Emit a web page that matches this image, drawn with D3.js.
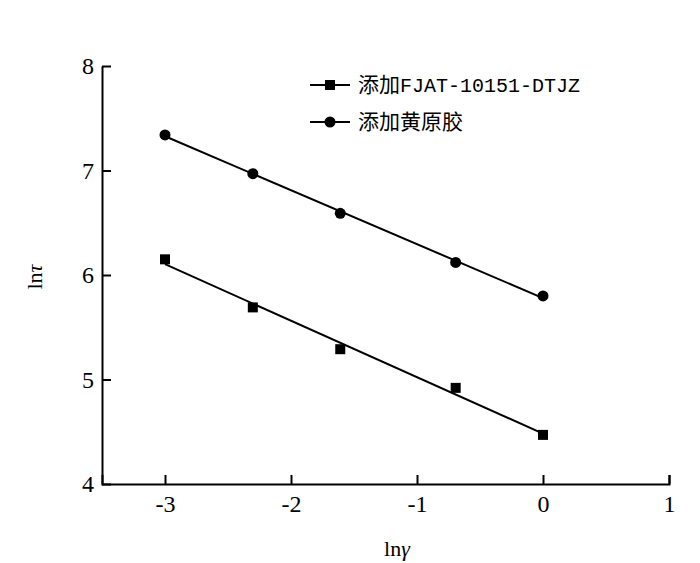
<!DOCTYPE html>
<html>
<head>
<meta charset="utf-8">
<script src="https://cdn.jsdelivr.net/npm/d3@7"></script>
<style>
  body { margin: 0; background: #fff; }
  svg { display: block; }
</style>
</head>
<body>
<div class="chart"></div>
<script>
// ln(shear rate) values
const lnGamma = [-3.0, -2.303, -1.609, -0.693, 0];
// ln(shear stress) for each sample
const lnTauFJAT = [6.15, 5.69, 5.29, 4.92, 4.47];
const lnTauHuang = [7.34, 6.97, 6.59, 6.12, 5.80];
const seriesNames = ["添加FJAT-10151-DTJZ", "添加黄原胶"];
const xTicks = [-3, -2, -1, 0, 1];
const yTicks = [4, 5, 6, 7, 8];

const W = 700, H = 563;
const margin = {top: 66, right: 31, bottom: 79, left: 102};
const width = W - margin.left - margin.right,
      height = H - margin.top - margin.bottom;

const svg = d3.select(".chart").append("svg")
    .attr("width", W)
    .attr("height", H);

const g = svg.append("g")
    .attr("transform", "translate(" + margin.left + "," + margin.top + ")");

const x = d3.scaleLinear().domain([-3.5, 1]).range([0, width]);
const y = d3.scaleLinear().domain([4, 8]).range([height, 0]);

const serif = "'Liberation Serif', 'Times New Roman', serif";

// axes, ticks pointing inward; plain hyphen for negatives
const xAxis = g.append("g")
    .attr("transform", "translate(0," + height + ")")
    .call(d3.axisBottom(x).tickValues(xTicks).tickSizeInner(-9).tickSizeOuter(-9).tickPadding(11).tickFormat(d => String(d)));
const yAxis = g.append("g")
    .call(d3.axisLeft(y).tickValues(yTicks).tickSizeInner(-9).tickSizeOuter(0).tickPadding(8).tickFormat(d => String(d)));

[xAxis, yAxis].forEach(a => {
    a.attr("font-family", serif).attr("font-size", 24);
    a.selectAll("path, line").attr("stroke", "#000").attr("stroke-width", 2);
    a.selectAll("text").attr("fill", "#000");
});
xAxis.selectAll("text").attr("dy", "0.71em");

// axis titles
svg.append("text")
    .attr("x", 397).attr("y", 556)
    .attr("text-anchor", "middle")
    .attr("font-family", serif).attr("font-size", 22)
    .html("ln<tspan font-style='italic'>γ</tspan>");

svg.append("text")
    .attr("transform", "translate(42,277) rotate(-90)")
    .attr("text-anchor", "middle")
    .attr("font-family", serif).attr("font-size", 22)
    .html("ln<tspan font-style='italic'>τ</tspan>");

// least squares fit
function fit(xs, ys) {
    const mx = d3.mean(xs), my = d3.mean(ys);
    const sxy = d3.sum(xs, (v, i) => (v - mx) * (ys[i] - my));
    const sxx = d3.sum(xs, v => (v - mx) * (v - mx));
    const b = sxy / sxx;
    return {b: b, a: my - b * mx};
}

const series = [
    {name: seriesNames[0], values: lnTauFJAT, shape: "square"},
    {name: seriesNames[1], values: lnTauHuang, shape: "circle"}
];

const xExt = d3.extent(lnGamma);

series.forEach(s => {
    const f = fit(lnGamma, s.values);
    g.append("line")
        .attr("x1", x(xExt[0])).attr("y1", y(f.a + f.b * xExt[0]))
        .attr("x2", x(xExt[1])).attr("y2", y(f.a + f.b * xExt[1]))
        .attr("stroke", "#000").attr("stroke-width", 2);

    const pts = lnGamma.map((v, i) => [v, s.values[i]]);
    if (s.shape === "square") {
        g.selectAll(null).data(pts).join("rect")
            .attr("x", d => x(d[0]) - 5).attr("y", d => y(d[1]) - 5)
            .attr("width", 10).attr("height", 10)
            .attr("fill", "#000");
    } else {
        g.selectAll(null).data(pts).join("circle")
            .attr("cx", d => x(d[0])).attr("cy", d => y(d[1]))
            .attr("r", 5.5)
            .attr("fill", "#000");
    }
});

// legend
const legend = svg.append("g").attr("transform", "translate(310,85)");
series.forEach((s, i) => {
    const row = legend.append("g").attr("transform", "translate(0," + (i * 37) + ")");
    row.append("line").attr("x1", 0).attr("x2", 40).attr("stroke", "#000").attr("stroke-width", 2);
    if (s.shape === "square") {
        row.append("rect").attr("x", 15).attr("y", -5).attr("width", 10).attr("height", 10).attr("fill", "#000");
    } else {
        row.append("circle").attr("cx", 20).attr("r", 5.5).attr("fill", "#000");
    }
    const t = row.append("text").attr("x", 48).attr("dy", "0.35em")
        .attr("font-size", 21).attr("fill", "#000");
    // Chinese part and Latin part in separate fonts
    const m = s.name.match(/^([^A-Za-z0-9]+)(.*)$/);
    t.append("tspan").attr("font-family", "'Noto Sans CJK SC', sans-serif").text(m[1]);
    if (m[2]) t.append("tspan").attr("font-family", "'Liberation Mono', monospace").attr("font-size", 20).text(m[2]);
});
</script>
</body>
</html>
